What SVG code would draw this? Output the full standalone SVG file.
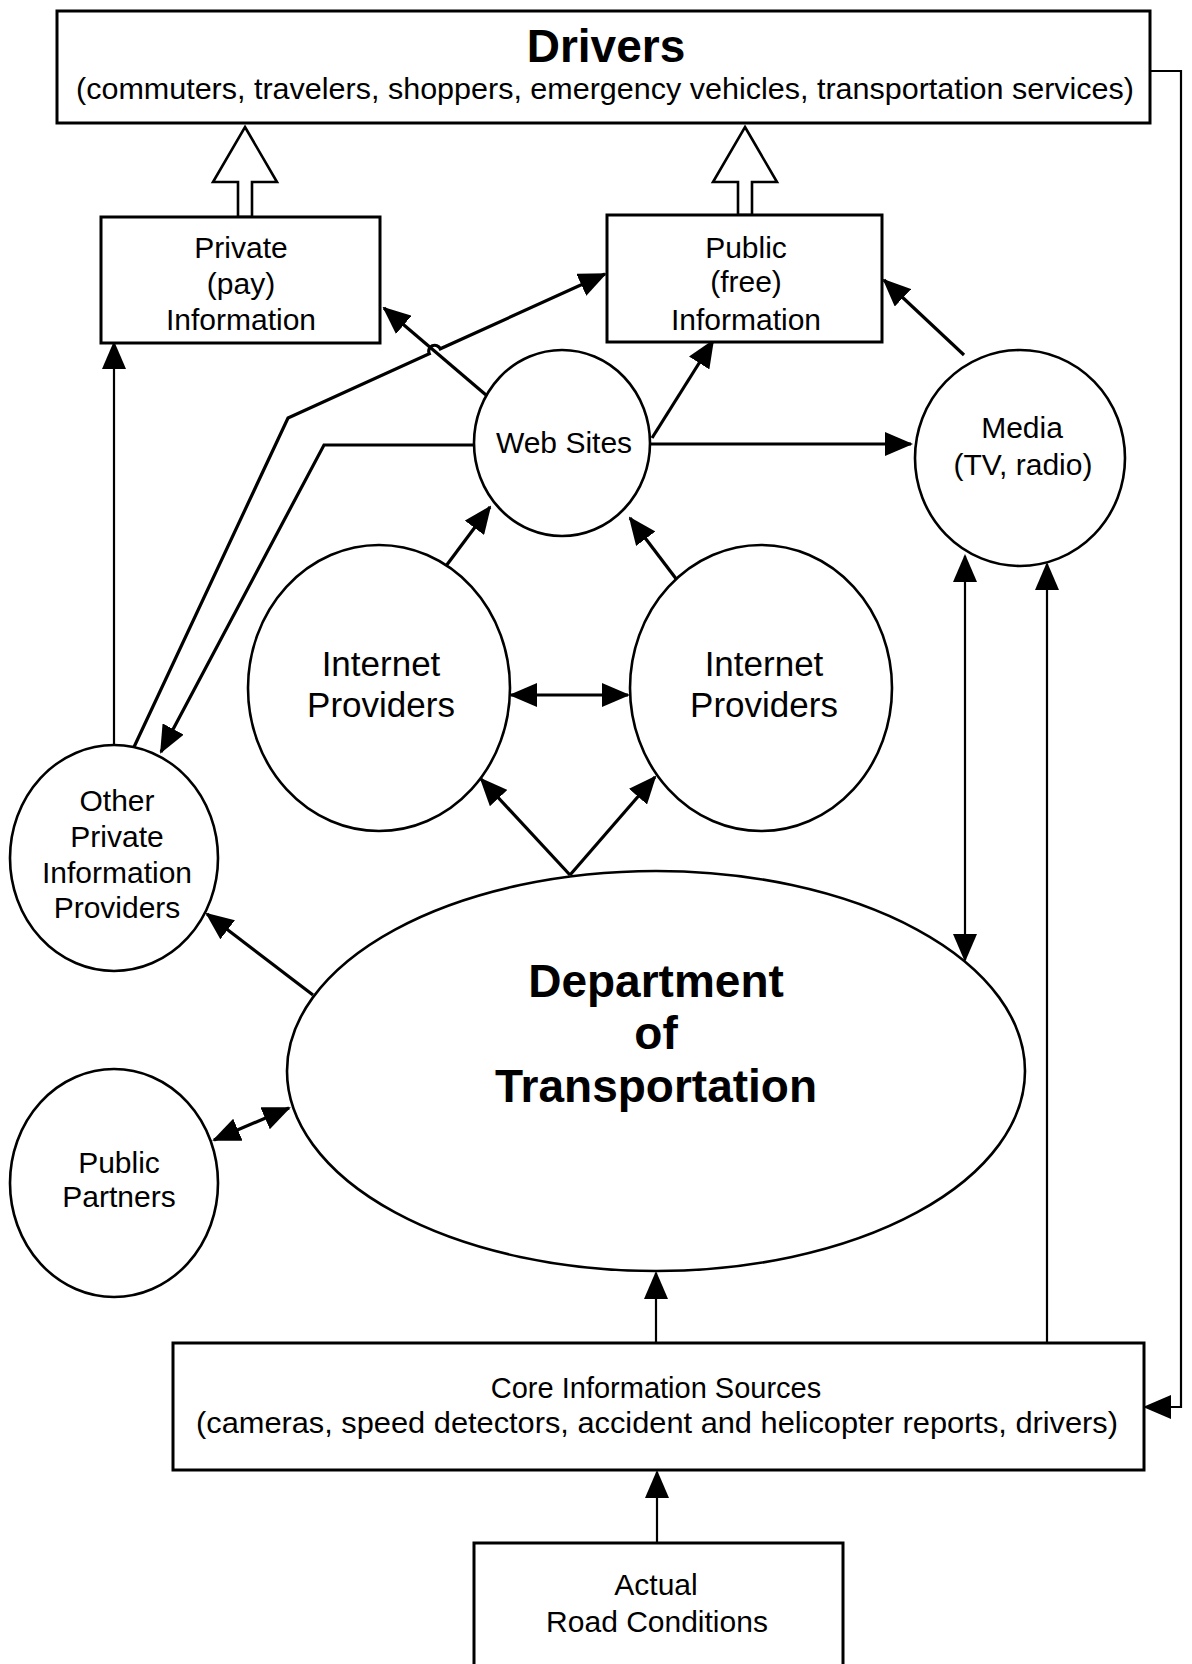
<svg xmlns="http://www.w3.org/2000/svg" width="1192" height="1664" viewBox="0 0 1192 1664">
<style>
.box{fill:#fff;stroke:#000;stroke-width:3}
.nd{fill:#fff;stroke:#000;stroke-width:2.6}
.c{fill:none;stroke:#000;stroke-width:3.2}
.t{fill:none;stroke:#000;stroke-width:2.2}
.hol{fill:#fff;stroke:#000;stroke-width:2.6;stroke-linejoin:miter}
text{font-family:"Liberation Sans",Arial,Helvetica,sans-serif;fill:#000;text-anchor:middle}
.lb{font-size:30px}
.ip{font-size:35px}
.tb{font-size:46px;font-weight:bold}
.sub{font-size:29px}
</style>
<defs>
<marker id="ah" markerUnits="userSpaceOnUse" viewBox="0 0 28 24" markerWidth="28" markerHeight="24" refX="26" refY="12" orient="auto-start-reverse">
<path d="M0,0 L28,12 L0,24 Z" fill="#000"/>
</marker>
</defs>
<rect width="1192" height="1664" fill="#fff"/>

<g id="connectors">
<path class="hol" d="M245,127 L277,182 L252,182 L252,217 L238,217 L238,182 L213,182 Z"/>
<path class="hol" d="M745,127 L777,182 L752,182 L752,215 L738,215 L738,182 L713,182 Z"/>
<path class="t" d="M656,1343 L656,1273" marker-end="url(#ah)"/>
<path class="t" d="M657,1543 L657,1472" marker-end="url(#ah)"/>
<path class="t" d="M1047,1343 L1047,564" marker-end="url(#ah)"/>
<path class="t" d="M965,960 L965,556" marker-start="url(#ah)" marker-end="url(#ah)"/>
<path class="t" d="M1150,71 L1181,71 L1181,1407 L1145,1407" marker-end="url(#ah)"/>
<path class="c" d="M570,875 L481,779" marker-end="url(#ah)"/>
<path class="c" d="M570,875 L655,777" marker-end="url(#ah)"/>
<path class="c" d="M446,566 L490,507" marker-end="url(#ah)"/>
<path class="c" d="M677,580 L630,518" marker-end="url(#ah)"/>
<path class="c" d="M511,695 L628,695" marker-start="url(#ah)" marker-end="url(#ah)"/>
<path class="c" d="M651,444 L911,444" marker-end="url(#ah)"/>
<path class="c" d="M652,438 L713,341" marker-end="url(#ah)"/>
<path class="c" d="M486,395 L384,308" marker-end="url(#ah)"/>
<path class="c" d="M964,355 L884,280" marker-end="url(#ah)"/>
<path class="c" d="M134,747 L288,418 L429.3,353.8 A6,6 0 0 1 440.3,348.8 L605,274" marker-end="url(#ah)"/>
<path class="c" d="M473,445 L324,445 L161,752" marker-end="url(#ah)"/>
<path class="t" d="M114,745 L114,343" marker-end="url(#ah)"/>
<path class="c" d="M313,995 L207,914" marker-end="url(#ah)"/>
<path class="c" d="M214,1140 L289,1108" marker-start="url(#ah)" marker-end="url(#ah)"/>
</g>

<g id="drivers">
<rect class="box" x="57" y="11" width="1093" height="112"/>
<text class="tb" x="606" y="62" font-size="45">Drivers</text>
<text class="sub" x="605" y="99" textLength="1058" lengthAdjust="spacingAndGlyphs">(commuters, travelers, shoppers, emergency vehicles, transportation services)</text>
</g>

<g id="private-info">
<rect class="box" x="101" y="217" width="279" height="126"/>
<text class="lb" x="241" y="258">Private</text>
<text class="lb" x="241" y="294">(pay)</text>
<text class="lb" x="241" y="330">Information</text>
</g>

<g id="public-info">
<rect class="box" x="607" y="215" width="275" height="127"/>
<text class="lb" x="746" y="258">Public</text>
<text class="lb" x="746" y="292">(free)</text>
<text class="lb" x="746" y="330">Information</text>
</g>

<g id="web-sites">
<ellipse class="nd" cx="562" cy="443" rx="88" ry="93"/>
<text class="lb" x="564" y="453">Web Sites</text>
</g>

<g id="media">
<ellipse class="nd" cx="1020" cy="458" rx="105" ry="108"/>
<text class="lb" x="1022" y="438">Media</text>
<text class="lb" x="1023" y="475">(TV, radio)</text>
</g>

<g id="internet-providers-1">
<ellipse class="nd" cx="379" cy="688" rx="131" ry="143"/>
<text class="ip" x="381" y="676">Internet</text>
<text class="ip" x="381" y="717">Providers</text>
</g>

<g id="internet-providers-2">
<ellipse class="nd" cx="761" cy="688" rx="131" ry="143"/>
<text class="ip" x="764" y="676">Internet</text>
<text class="ip" x="764" y="717">Providers</text>
</g>

<g id="other-private">
<ellipse class="nd" cx="114" cy="858" rx="104" ry="113"/>
<text class="lb" x="117" y="811">Other</text>
<text class="lb" x="117" y="847">Private</text>
<text class="lb" x="117" y="883">Information</text>
<text class="lb" x="117" y="918">Providers</text>
</g>

<g id="public-partners">
<ellipse class="nd" cx="114" cy="1183" rx="104" ry="114"/>
<text class="lb" x="119" y="1173">Public</text>
<text class="lb" x="119" y="1207">Partners</text>
</g>

<g id="dot">
<ellipse class="nd" cx="656" cy="1071" rx="369" ry="200"/>
<text class="tb" x="656" y="997">Department</text>
<text class="tb" x="656" y="1049">of</text>
<text class="tb" x="656" y="1102">Transportation</text>
</g>

<g id="core-sources">
<rect class="box" x="173" y="1343" width="971" height="127"/>
<text class="sub" x="656" y="1398">Core Information Sources</text>
<text class="sub" x="657" y="1433" textLength="922" lengthAdjust="spacingAndGlyphs">(cameras, speed detectors, accident and helicopter reports, drivers)</text>
</g>

<g id="actual-road">
<rect class="box" x="474" y="1543" width="369" height="140"/>
<text class="lb" x="656" y="1595">Actual</text>
<text class="lb" x="657" y="1632">Road Conditions</text>
</g>
</svg>
